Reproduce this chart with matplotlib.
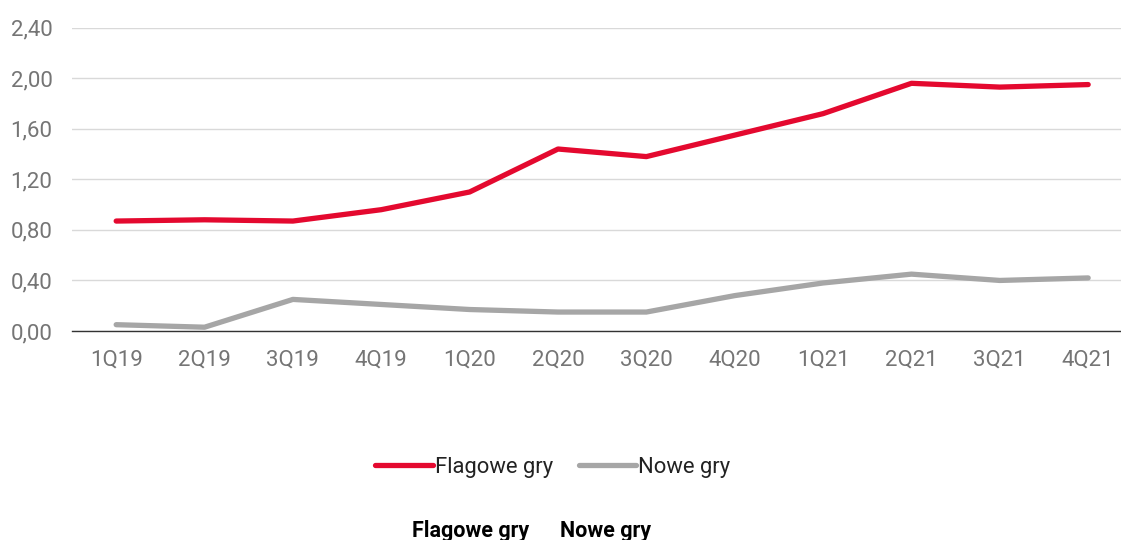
import matplotlib
matplotlib.use("Agg")
import matplotlib.pyplot as plt

quarters = ["1Q19", "2Q19", "3Q19", "4Q19", "1Q20", "2Q20",
            "3Q20", "4Q20", "1Q21", "2Q21", "3Q21", "4Q21"]
flagowe = [0.87, 0.88, 0.87, 0.96, 1.10, 1.44, 1.38, 1.55, 1.72, 1.96, 1.93, 1.95]
nowe = [0.05, 0.03, 0.25, 0.21, 0.17, 0.15, 0.15, 0.28, 0.38, 0.45, 0.40, 0.42]
yticks = [0.0, 0.4, 0.8, 1.2, 1.6, 2.0, 2.4]
series_names = ["Flagowe gry", "Nowe gry"]

plt.rcParams['font.family'] = ['Roboto', 'DejaVu Sans']

W, H, DPI = 1121, 540, 100
fig = plt.figure(figsize=(W / DPI, H / DPI), dpi=DPI)

step = (1088 - 116) / 11
left = 72 / W
bottom = 1 - 331 / H
top = 1 - 27.7 / H
width = 12 * step / W
ax = fig.add_axes([left, bottom, width, top - bottom])

x = list(range(len(quarters)))
red = "#E4092F"
gray = "#A6A6A6"
ax.plot(x, flagowe, color=red, lw=3.8, solid_capstyle='round',
        solid_joinstyle='round', label=series_names[0], zorder=3)
ax.plot(x, nowe, color=gray, lw=3.8, solid_capstyle='round',
        solid_joinstyle='round', label=series_names[1], zorder=3)

ax.set_xlim(-0.5, len(quarters) - 0.5)
ax.set_ylim(0, 2.4)
ax.set_yticks(yticks)
ax.set_yticklabels([f"{v:.2f}".replace(".", ",") for v in yticks])
ax.set_xticks(x)
ax.set_xticklabels(quarters)

ax.grid(axis='y', color="#D9D9D9", lw=1.0, zorder=0)
ax.set_axisbelow(True)
for s in ["top", "right", "left"]:
    ax.spines[s].set_visible(False)
ax.spines["bottom"].set_color("#333333")
ax.spines["bottom"].set_linewidth(1.0)
ax.spines["bottom"].set_zorder(4)
ax.tick_params(axis='both', length=0, labelsize=16, labelcolor="#757575")
ax.tick_params(axis='x', pad=13)
ax.tick_params(axis='y', pad=14)

leg = fig.legend(loc='center', bbox_to_anchor=(553 / W, 1 - 467 / H), ncol=2,
                 frameon=False, fontsize=15.8, handlelength=2.6,
                 handletextpad=0.1, columnspacing=1.2)
for t in leg.get_texts():
    t.set_color("#222222")

fig.text(470.5 / W, 1 - 520 / H, series_names[0], ha='center', va='top',
         fontsize=15.5, fontweight='bold', color="#000000")
fig.text(606 / W, 1 - 520 / H, series_names[1], ha='center', va='top',
         fontsize=15.5, fontweight='bold', color="#000000")

fig.savefig("out.png", dpi=DPI)
